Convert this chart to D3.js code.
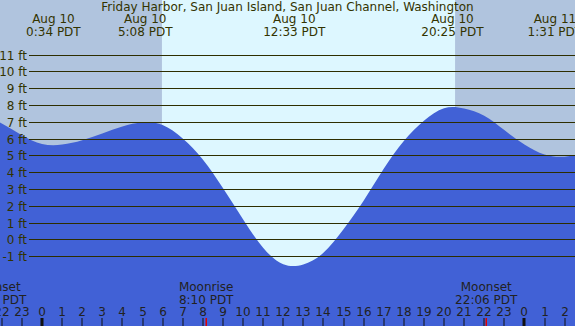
<!DOCTYPE html>
<html>
<head>
<meta charset="utf-8">
<script src="https://cdn.jsdelivr.net/npm/d3@7"></script>
<style>
  body { margin: 0; background: #fff; }
  svg text { font-family: "DejaVu Sans", sans-serif; }
</style>
</head>
<body>
<div id="chart"></div>
<script>
// station and window
const title = 'Friday Harbor, San Juan Island, San Juan Channel, Washington';

// hourly tide heights (ft), hours counted from Aug 10 00:00
const hours = [-3, -2, -1, 0, 1, 2, 3, 4, 5, 6, 7, 8, 9, 10, 11, 12, 13, 14, 15, 16, 17, 18, 19, 20, 21, 22, 23, 24, 25, 26, 27];
const heights = [7.5, 6.9, 6.2, 5.68, 5.64, 5.9, 6.3, 6.72, 6.95, 6.8, 6.0, 4.75, 3.05, 1.2, -0.5, -1.48, -1.5, -0.8, 0.6, 2.3, 4.2, 5.85, 7.05, 7.8, 7.78, 7.35, 6.5, 5.65, 5.05, 4.92, 5.15];

// high / low tide labels
const tideDays = ['Aug 10', 'Aug 10', 'Aug 10', 'Aug 10', 'Aug 11'];
const tideClock = ['0:34', '5:08', '12:33', '20:25', '1:31'];
const tideDayOffset = [0, 0, 0, 0, 1];

// moon events
const moonNames = ['Moonset', 'Moonrise', 'Moonset'];
const moonClock = ['21:40', '8:10', '22:06'];
const moonDayOffset = [-1, 0, 0];

// sun
const sunrise = '5:58';
const sunset = '20:33';

// axis
const ftTicks = [-1, 0, 1, 2, 3, 4, 5, 6, 7, 8, 9, 10, 11];
const hourTicks = d3.range(-2, 27);

const W = 575, H = 326;
const textCol = '#333300';

function toHour(clock, dayOff) {
    let p = clock.split(':');
    return dayOff * 24 + (+p[0]) + (+p[1]) / 60;
}

let x = d3.scaleLinear().domain([-2.09, 26.517]).range([0, W]);
let y = d3.scaleLinear().domain([-1, 11]).range([256.1, 54.5]);

let svg = d3.select('#chart').append('svg')
    .attr('width', W)
    .attr('height', H);

// night / day background
svg.append('rect')
    .attr('x', 0).attr('y', 0)
    .attr('width', W).attr('height', H)
    .style('fill', '#b0c4de');
svg.append('rect')
    .attr('x', x(toHour(sunrise, 0)))
    .attr('y', 0)
    .attr('width', x(toHour(sunset, 0)) - x(toHour(sunrise, 0)))
    .attr('height', H)
    .style('fill', '#ddf7ff');

// water
let tide = hours.map((h, i) => ({h: h, v: heights[i]}));
let area = d3.area()
    .x(d => x(d.h))
    .y0(H)
    .y1(d => y(d.v))
    .curve(d3.curveNatural);
svg.append('path')
    .datum(tide)
    .attr('d', area)
    .style('fill', '#4161d6');

// grid lines + ft labels
let grid = svg.append('g').selectAll('g')
    .data(ftTicks)
    .enter().append('g');
grid.append('line')
    .attr('x1', 29).attr('x2', W)
    .attr('y1', d => Math.round(y(d)) + 0.5)
    .attr('y2', d => Math.round(y(d)) + 0.5)
    .style('stroke', '#2e2e00')
    .style('stroke-width', 1);
grid.append('text')
    .attr('x', 27)
    .attr('y', d => Math.round(y(d)) + 4.5)
    .attr('text-anchor', 'end')
    .attr('font-size', '12px')
    .attr('fill', textCol)
    .text(d => d + ' ft');

// title
svg.append('text')
    .attr('x', W / 2).attr('y', 11)
    .attr('text-anchor', 'middle')
    .attr('font-size', '12px')
    .attr('fill', textCol)
    .text(title);

// tide extremes
let tl = svg.append('g').selectAll('g')
    .data(tideClock)
    .enter().append('g')
    .attr('transform', (d, i) => 'translate(' + x(toHour(d, tideDayOffset[i])) + ',0)');
tl.append('text')
    .attr('y', 23)
    .attr('text-anchor', 'middle')
    .attr('font-size', '12px')
    .attr('fill', textCol)
    .text((d, i) => tideDays[i]);
tl.append('text')
    .attr('y', 36)
    .attr('text-anchor', 'middle')
    .attr('font-size', '12px')
    .attr('fill', textCol)
    .text(d => d + ' PDT');

// moon events
let ml = svg.append('g').selectAll('g')
    .data(moonClock)
    .enter().append('g')
    .attr('transform', (d, i) => 'translate(' + x(toHour(d, moonDayOffset[i])) + ',0)');
ml.append('text')
    .attr('y', 291)
    .attr('text-anchor', 'middle')
    .attr('font-size', '12px')
    .attr('fill', '#222')
    .text((d, i) => moonNames[i]);
ml.append('text')
    .attr('y', 304)
    .attr('text-anchor', 'middle')
    .attr('font-size', '12px')
    .attr('fill', '#222')
    .text(d => d + ' PDT');

// hour ticks
let ht = svg.append('g').selectAll('g')
    .data(hourTicks)
    .enter().append('g')
    .attr('transform', d => 'translate(' + Math.round(x(d)) + ',0)');
ht.append('rect')
    .attr('x', d => ((d % 24) + 24) % 24 === 0 ? -1.5 : -0.5)
    .attr('y', 318)
    .attr('width', d => ((d % 24) + 24) % 24 === 0 ? 3 : 1)
    .attr('height', 8)
    .style('fill', '#111');
ht.append('text')
    .attr('y', 316)
    .attr('text-anchor', 'middle')
    .attr('font-size', '12px')
    .attr('fill', '#222')
    .text(d => ((d % 24) + 24) % 24);

// moon ticks (red)
svg.append('g').selectAll('rect')
    .data(moonClock)
    .enter().append('rect')
    .attr('x', (d, i) => Math.round(x(toHour(d, moonDayOffset[i]))) - 0.5)
    .attr('y', 318)
    .attr('width', 1.5)
    .attr('height', 8)
    .style('fill', '#e00000');
</script>
</body>
</html>
